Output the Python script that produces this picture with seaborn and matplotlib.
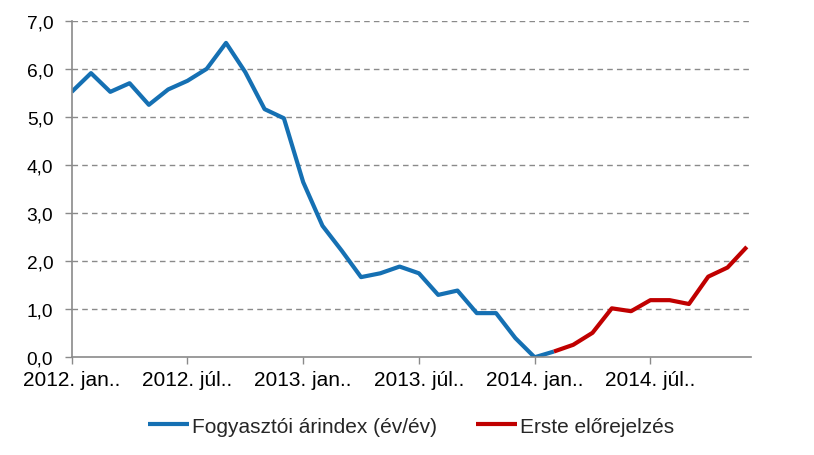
import matplotlib
matplotlib.use("Agg")
import matplotlib.pyplot as plt
import seaborn as sns
import pandas as pd
import numpy as np

# ---- data ----
months_blue = list(range(0, 26))          # 2012 jan .. 2014 feb
cpi_values = [5.53, 5.92, 5.53, 5.71, 5.26, 5.58, 5.76, 6.01, 6.55, 5.94, 5.17, 4.98,
              3.65, 2.74, 2.22, 1.67, 1.75, 1.89, 1.75, 1.30, 1.39, 0.92, 0.92, 0.40,
              0.00, 0.12]
months_red = list(range(25, 36))          # 2014 feb .. 2014 dec
forecast_values = [0.12, 0.26, 0.51, 1.02, 0.96, 1.19, 1.19, 1.11, 1.68, 1.87, 2.30]
series_names = ["Fogyasztói árindex (év/év)", "Erste előrejelzés"]
tick_months = [0, 6, 12, 18, 24, 30]
tick_labels = ["2012. jan..", "2012. júl..", "2013. jan..", "2013. júl..",
               "2014. jan..", "2014. júl.."]
y_ticks = [0, 1, 2, 3, 4, 5, 6, 7]

df = pd.concat([
    pd.DataFrame({"month": months_blue, "value": cpi_values, "series": series_names[0]}),
    pd.DataFrame({"month": months_red, "value": forecast_values, "series": series_names[1]}),
], ignore_index=True)

sns.set_theme(style="white")
plt.rcParams["font.family"] = ["Liberation Sans", "DejaVu Sans"]

fig = plt.figure(figsize=(8.14, 4.56), dpi=100)
ax = fig.add_axes([0.0881, 0.2143, 0.9222 - 0.0881, 0.9511 - 0.2143])

palette = {series_names[0]: "#1570B3", series_names[1]: "#C00000"}
sns.lineplot(data=df, x="month", y="value", hue="series", palette=palette,
             linewidth=3.0, ax=ax, legend=True, sort=False)
for ln in ax.get_lines():
    ln.set_solid_joinstyle("round")
    ln.set_solid_capstyle("butt")

ax.set_xlim(0, 35.2)
ax.set_ylim(0, 7)
ax.set_yticks(y_ticks)
ax.set_yticklabels([f"{v:.1f}".replace(".", ",") for v in y_ticks])
ax.set_xticks(tick_months)
ax.set_xticklabels(tick_labels)
ax.set_xlabel("")
ax.set_ylabel("")

for yv in y_ticks[1:]:
    ax.axhline(yv, color="#8a8a8a", linewidth=1.0, linestyle=(0, (4, 3)), zorder=0)

for s in ["top", "right"]:
    ax.spines[s].set_visible(False)
for s in ["left", "bottom"]:
    ax.spines[s].set_color("#8a8a8a")
    ax.spines[s].set_linewidth(1.2)

ax.tick_params(axis="both", which="major", direction="out", length=4.8, width=1.0,
               color="#8a8a8a", labelcolor="#000000")
ax.tick_params(axis="y", pad=8.5, left=True, labelsize=13.8)
ax.tick_params(axis="x", pad=4.5, bottom=True, labelsize=15)
ax.grid(False)

handles, labels = ax.get_legend_handles_labels()
ax.legend(handles, labels, loc="center", bbox_to_anchor=(0.505, 0.063),
          bbox_transform=fig.transFigure, ncol=2, frameon=False,
          fontsize=15, handlelength=1.95, handletextpad=0.15, columnspacing=1.9)

fig.savefig("out.png", dpi=100)
